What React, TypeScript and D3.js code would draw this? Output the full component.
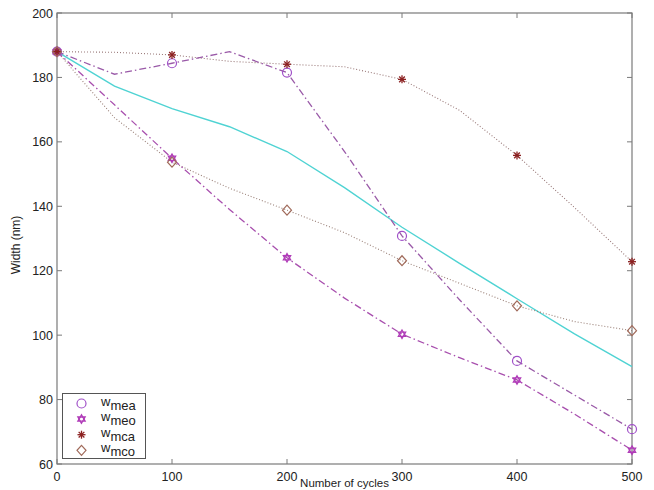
import React, { useRef, useEffect } from "react";
import * as d3 from "d3";

// cycles with a data point on every line (markers only every 100)
const cycles = [0, 50, 100, 150, 200, 250, 300, 350, 400, 450, 500];
const markerCycles = [0, 100, 200, 300, 400, 500];

const wMea = [188, 181, 184.4, 188, 181.5, 157, 130.8, 111, 92, 81.4, 70.8];
const wMeo = [188, 171.5, 154.9, 139, 124, 111.5, 100.3, 93, 86.1, 75.5, 64.3];
const wMca = [188, 187.8, 187, 185, 184.1, 183.3, 179.4, 169.8, 155.8, 139.6, 122.8];
const wMco = [188, 167.5, 153.7, 145.6, 138.8, 131.8, 123.1, 116.1, 109.1, 104.2, 101.4];
const wModel = [188, 177.3, 170.3, 164.7, 157, 145.8, 133.5, 122.3, 111.3, 100.4, 90.2];

const xTicks = [0, 100, 200, 300, 400, 500];
const yTicks = [60, 80, 100, 120, 140, 160, 180, 200];

const legendNames = ["mea", "meo", "mca", "mco"];

function App() {
  const canvas = useRef<SVGSVGElement>(null);

  function drawChart() {
    const width = 654;
    const height = 490;
    const left = 57;
    const right = 632;
    const top = 13;
    const bottom = 464;
    const font = "'Liberation Sans', Arial, Helvetica, sans-serif";

    const svg = d3.select(canvas.current).attr("width", width).attr("height", height);
    svg.selectAll("*").remove();

    svg.append("rect").attr("width", width).attr("height", height).attr("fill", "#fff");

    const x = d3.scaleLinear().domain([0, 500]).range([left, right]);
    const y = d3.scaleLinear().domain([60, 200]).range([bottom, top]);

    const axisColor = "#7a7a7a";
    // box
    svg.append("rect")
      .attr("x", left).attr("y", top)
      .attr("width", right - left).attr("height", bottom - top)
      .attr("fill", "none").attr("stroke", axisColor).attr("stroke-width", 1.2);

    // ticks inward, like matlab
    const g = svg.append("g");
    xTicks.forEach((t) => {
      g.append("line").attr("x1", x(t)).attr("x2", x(t)).attr("y1", bottom).attr("y2", bottom - 5)
        .attr("stroke", axisColor);
      g.append("line").attr("x1", x(t)).attr("x2", x(t)).attr("y1", top).attr("y2", top + 5)
        .attr("stroke", axisColor);
      g.append("text").text(t).attr("x", x(t)).attr("y", bottom + 17)
        .attr("text-anchor", "middle").style("font-family", font).style("font-size", "12.5px")
        .attr("fill", "#222");
    });
    yTicks.forEach((t) => {
      g.append("line").attr("x1", left).attr("x2", left + 5).attr("y1", y(t)).attr("y2", y(t))
        .attr("stroke", axisColor);
      g.append("line").attr("x1", right).attr("x2", right - 5).attr("y1", y(t)).attr("y2", y(t))
        .attr("stroke", axisColor);
      g.append("text").text(t).attr("x", left - 4).attr("y", y(t) + 4.5)
        .attr("text-anchor", "end").style("font-family", font).style("font-size", "12.5px")
        .attr("fill", "#222");
    });

    svg.append("text").text("Number of cycles")
      .attr("x", (left + right) / 2).attr("y", 487)
      .attr("text-anchor", "middle").style("font-family", font).style("font-size", "11.5px")
      .attr("fill", "#222");
    svg.append("text").text("Width (nm)")
      .attr("transform", `translate(20, ${245}) rotate(-90)`)
      .attr("text-anchor", "middle").style("font-family", font).style("font-size", "12px")
      .attr("fill", "#222");

    const line = d3.line<number>()
      .x((_, i) => x(cycles[i]))
      .y((d) => y(d));

    const series = [
      { values: wModel, color: "#4fd3d3", dash: null, width: 1.4 },
      { values: wMca, color: "#9a7a7a", dash: "1,2", width: 1.1 },
      { values: wMco, color: "#9a8078", dash: "1,2", width: 1.1 },
      { values: wMea, color: "#9a5aa8", dash: "7,3,1.5,3", width: 1.3 },
      { values: wMeo, color: "#a84fae", dash: "7,3,1.5,3", width: 1.3 },
    ];
    series.forEach((s) => {
      const p = svg.append("path").attr("d", line(s.values))
        .attr("fill", "none").attr("stroke", s.color).attr("stroke-width", s.width);
      if (s.dash) p.attr("stroke-dasharray", s.dash);
    });

    const markerColors = ["#a050c8", "#b03cb8", "#8b2020", "#a06a5a"];
    const drawMarker = (sel: any, kind: number, cx: number, cy: number) => {
      const c = markerColors[kind];
      if (kind === 0) {
        sel.append("circle").attr("cx", cx).attr("cy", cy).attr("r", 4.5)
          .attr("fill", "none").attr("stroke", c).attr("stroke-width", 1.2);
      } else if (kind === 1) {
        const tri = (sign: number) =>
          d3.range(3).map((k) => {
            const a = (k * 2 * Math.PI) / 3 + (sign > 0 ? -Math.PI / 2 : Math.PI / 2);
            return [cx + 4.2 * Math.cos(a), cy + 4.2 * Math.sin(a)];
          });
        [1, -1].forEach((sg) => {
          sel.append("polygon").attr("points", tri(sg).map((p) => p.join(",")).join(" "))
            .attr("fill", "none").attr("stroke", c).attr("stroke-width", 1.3);
        });
      } else if (kind === 2) {
        d3.range(4).forEach((k) => {
          const a = (k * Math.PI) / 4;
          sel.append("line")
            .attr("x1", cx - 4 * Math.cos(a)).attr("y1", cy - 4 * Math.sin(a))
            .attr("x2", cx + 4 * Math.cos(a)).attr("y2", cy + 4 * Math.sin(a))
            .attr("stroke", c).attr("stroke-width", 1.3);
        });
      } else {
        sel.append("polygon")
          .attr("points", `${cx},${cy - 5} ${cx + 4.5},${cy} ${cx},${cy + 5} ${cx - 4.5},${cy}`)
          .attr("fill", "none").attr("stroke", c).attr("stroke-width", 1.2);
      }
    };

    const markerSeries = [wMea, wMeo, wMca, wMco];
    const mg = svg.append("g");
    markerSeries.forEach((vals, k) => {
      markerCycles.forEach((mc) => {
        const i = cycles.indexOf(mc);
        drawMarker(mg, k, x(mc), y(vals[i]));
      });
    });

    // legend
    const lg = svg.append("g");
    lg.append("rect").attr("x", 62.5).attr("y", 393.5).attr("width", 83).attr("height", 65)
      .attr("fill", "#fff").attr("stroke", "#555").attr("stroke-width", 1);
    legendNames.forEach((n, k) => {
      const cy = 403.5 + k * 15.6;
      drawMarker(lg, k, 81.5, cy);
      const t = lg.append("text").attr("x", 101).attr("y", cy + 2)
        .style("font-family", font).style("font-size", "13px").attr("fill", "#222");
      t.append("tspan").text("w");
      t.append("tspan").text(n).attr("dy", 4);
    });
  }

  useEffect(() => {
    drawChart();
  }, []);

  return (
    <svg ref={canvas} style={{ position: "absolute", left: 0, top: 0 }}></svg>
  );
}

export default App;
